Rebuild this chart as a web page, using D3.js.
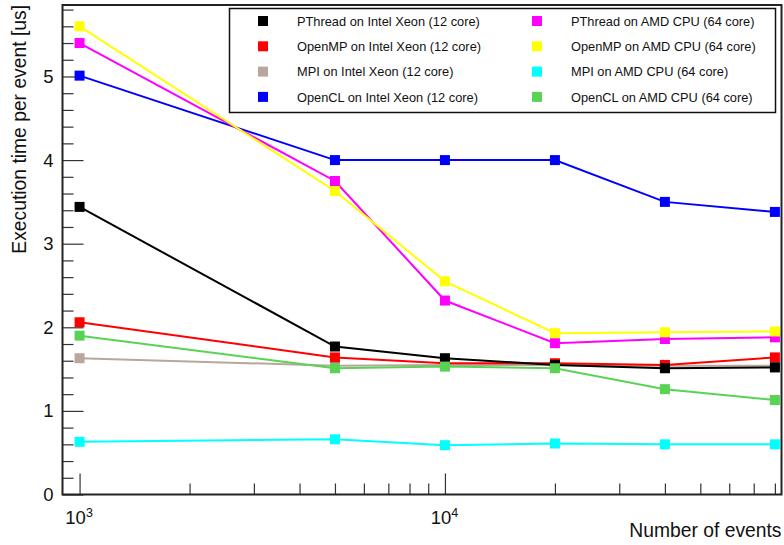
<!DOCTYPE html>
<meta charset="utf-8">
<style type="text/css">
body {
  margin: 0;
  background: #fff;
  font-family: "Liberation Sans", Arial, sans-serif;
}

.axis path.domain {
  display: none;
}

.axis line {
  stroke: #333;
  stroke-width: 1.2px;
}

.axis text {
  font-size: 18.5px;
  fill: #111;
}

.frame {
  fill: none;
  stroke: #222;
  stroke-width: 2px;
}

.series path {
  fill: none;
  stroke-width: 2px;
}

.legend text {
  font-size: 12.8px;
  fill: #111;
}

.title {
  font-size: 19.3px;
  fill: #111;
}
</style>
<body>
</body>
<script src="https://d3js.org/d3.v7.min.js"></script>
<script>
// number of events on the x axis
var events = [1000, 5000, 10000, 20000, 40000, 80000];

// execution time per event [us]
var pthreadIntel = [3.44, 1.77, 1.63, 1.55, 1.51, 1.52];
var openmpIntel  = [2.06, 1.64, 1.57, 1.57, 1.55, 1.64];
var mpiIntel     = [1.63, 1.54, 1.55, 1.55, 1.54, 1.54];
var openclIntel  = [5.01, 4.00, 4.00, 4.00, 3.50, 3.38];
var pthreadAmd   = [5.40, 3.75, 2.32, 1.81, 1.86, 1.88];
var openmpAmd    = [5.60, 3.63, 2.55, 1.93, 1.94, 1.95];
var mpiAmd       = [0.63, 0.66, 0.59, 0.61, 0.60, 0.60];
var openclAmd    = [1.90, 1.51, 1.53, 1.51, 1.26, 1.13];

var seriesNames = [
  "PThread on Intel Xeon (12 core)",
  "OpenMP on Intel Xeon (12 core)",
  "MPI on Intel Xeon (12 core)",
  "OpenCL on Intel Xeon (12 core)",
  "PThread on AMD CPU (64 core)",
  "OpenMP on AMD CPU (64 core)",
  "MPI on AMD CPU (64 core)",
  "OpenCL on AMD CPU (64 core)"
];
var seriesValues = [pthreadIntel, openmpIntel, mpiIntel, openclIntel,
                    pthreadAmd, openmpAmd, mpiAmd, openclAmd];
var seriesColors = ["#000000", "#ff0000", "#b9a69d", "#0000ff",
                    "#ff00ff", "#ffff00", "#00ffff", "#59d354"];
// order in which the graphs are painted
var drawOrder = [3, 2, 1, 0, 6, 7, 4, 5];

var yMajor = [0, 1, 2, 3, 4, 5];
var yMinor = [0.2, 0.4, 0.6, 0.8, 1.2, 1.4, 1.6, 1.8, 2.2, 2.4, 2.6, 2.8,
              3.2, 3.4, 3.6, 3.8, 4.2, 4.4, 4.6, 4.8, 5.2, 5.4, 5.6, 5.8];
var xMajor = [1000, 10000];
var xMinor = [2000, 3000, 4000, 5000, 6000, 7000, 8000, 9000,
              20000, 30000, 40000, 50000, 60000, 70000, 80000];

var width = 784;
var height = 545;
var frameL = 62.5, frameR = 781.5, frameT = 5, frameB = 494.5;

var svg = d3.select("body")
  .append("svg")
    .attr("width", width)
    .attr("height", height);

var x = d3.scaleLog()
  .domain([898, 83400])
  .range([frameL, frameR]);

var y = d3.scaleLinear()
  .domain([0, 5.855])
  .range([frameB, frameT]);

/* Axes */

svg.append("g")
  .attr("class", "y axis")
  .attr("transform", "translate(" + frameL + ",0)")
  .call(d3.axisLeft(y).tickValues(yMajor).tickSize(-21).tickSizeOuter(0).tickPadding(9)
    .tickFormat(d3.format("d")));

svg.append("g")
  .attr("class", "y axis minor")
  .attr("transform", "translate(" + frameL + ",0)")
  .call(d3.axisLeft(y).tickValues(yMinor).tickSize(-11).tickSizeOuter(0).tickFormat(""));

var xAxisG = svg.append("g")
  .attr("class", "x axis")
  .attr("transform", "translate(0," + frameB + ")")
  .call(d3.axisBottom(x).tickValues(xMajor).tickSize(-21).tickSizeOuter(0).tickFormat(""));

svg.append("g")
  .attr("class", "x axis minor")
  .attr("transform", "translate(0," + frameB + ")")
  .call(d3.axisBottom(x).tickValues(xMinor).tickSize(-11).tickSizeOuter(0).tickFormat(""));

// 10^n labels with superscripts
xAxisG.selectAll(".tick").append("text")
  .attr("y", 29)
  .attr("x", -1)
  .attr("text-anchor", "middle")
  .each(function(d) {
    var t = d3.select(this);
    t.append("tspan").text("10");
    t.append("tspan")
      .attr("dy", -7)
      .style("font-size", "12.5px")
      .text(Math.round(Math.log10(d)));
  });

/* Graphs */

var line = d3.line()
  .x(function(d, i) { return x(events[i]); })
  .y(function(d) { return y(d); });

drawOrder.forEach(function(k) {
  var g = svg.append("g").attr("class", "series");
  g.append("path")
    .attr("d", line(seriesValues[k]))
    .style("stroke", seriesColors[k]);
  g.selectAll("rect")
    .data(seriesValues[k])
    .enter().append("rect")
      .attr("x", function(d, i) { return x(events[i]) - 5; })
      .attr("y", function(d) { return y(d) - 5; })
      .attr("width", 10)
      .attr("height", 10)
      .style("fill", seriesColors[k]);
});

/* Frame */

svg.append("rect")
  .attr("class", "frame")
  .attr("x", frameL)
  .attr("y", frameT)
  .attr("width", frameR - frameL)
  .attr("height", frameB - frameT);

/* Titles */

svg.append("text")
  .attr("class", "title")
  .attr("transform", "translate(26," + frameT + ") rotate(-90)")
  .attr("text-anchor", "end")
  .text("Execution time per event [us]");

svg.append("text")
  .attr("class", "title")
  .attr("x", frameR)
  .attr("y", 537)
  .attr("text-anchor", "end")
  .text("Number of events");

/* Legend */

var legend = svg.append("g").attr("class", "legend");

legend.append("rect")
  .attr("x", 229.5)
  .attr("y", 8.5)
  .attr("width", 546)
  .attr("height", 104)
  .style("fill", "#fff")
  .style("stroke", "#111")
  .style("stroke-width", 1.5);

var entry = legend.selectAll("g.entry")
  .data(seriesNames)
  .enter().append("g")
    .attr("class", "entry")
    .attr("transform", function(d, i) {
      return "translate(" + (i < 4 ? 263 : 537) + "," + (21 + (i % 4) * 25.3) + ")";
    });

entry.append("rect")
  .attr("x", -5)
  .attr("y", -5)
  .attr("width", 10)
  .attr("height", 10)
  .style("fill", function(d, i) { return seriesColors[i]; });

entry.append("text")
  .attr("x", 34)
  .attr("dy", "0.36em")
  .text(function(d) { return d; });
</script>
